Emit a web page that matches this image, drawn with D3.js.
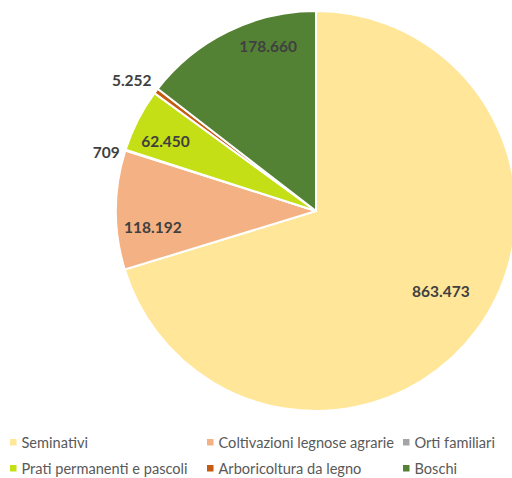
<!DOCTYPE html>
<html>
<head>
<meta charset="utf-8">
<script src="https://cdn.jsdelivr.net/npm/d3@7"></script>
<style>
  html, body { margin: 0; padding: 0; background: #fff; }
  svg { display: block; }
</style>
</head>
<body>
<svg id="chart" width="512" height="478"></svg>
<script>
// Superficie per uso del suolo (ettari)
const categories = [
  "Seminativi",
  "Coltivazioni legnose agrarie",
  "Orti familiari",
  "Prati permanenti e pascoli",
  "Arboricoltura da legno",
  "Boschi"
];
const values = [863473, 118192, 709, 62450, 5252, 178660];
const valueLabels = ["863.473", "118.192", "709", "62.450", "5.252", "178.660"];
const colors = ["#FFE699", "#F4B183", "#A5A5A5", "#C4DF15", "#C55A11", "#548235"];

// label placement: radius as a fraction of the pie radius, plus angle nudge (degrees)
const labelRadius = [0.74, 0.82, 1.09, 0.83, 1.13, 0.86];
const labelAngleShift = [-4, -6, -2, -2, -1.5, 10];

const svg = d3.select("#chart");
const cx = 316, cy = 211, R = 200;

const data = categories.map((c, i) => ({ name: c, value: values[i], label: valueLabels[i], color: colors[i], idx: i }));

const pie = d3.pie().value(d => d.value).sort(null);
const arcs = pie(data);
const arc = d3.arc().innerRadius(0).outerRadius(R);

const g = svg.append("g").attr("transform", `translate(${cx},${cy})`);

g.selectAll("path.slice")
  .data(arcs)
  .join("path")
  .attr("class", "slice")
  .attr("d", arc)
  .attr("fill", d => d.data.color)
  .attr("stroke", "#fff")
  .attr("stroke-width", 2)
  .attr("stroke-linejoin", "round");

g.selectAll("text.val")
  .data(arcs)
  .join("text")
  .attr("class", "val")
  .attr("transform", d => {
    const i = d.data.idx;
    const a = (d.startAngle + d.endAngle) / 2 + labelAngleShift[i] * Math.PI / 180;
    const r = R * labelRadius[i];
    return `translate(${r * Math.sin(a)},${-r * Math.cos(a)})`;
  })
  .attr("text-anchor", "middle")
  .attr("dominant-baseline", "central")
  .attr("font-family", "Lato, 'Open Sans', sans-serif")
  .attr("font-weight", "bold")
  .attr("font-size", 15.5)
  .attr("fill", "#404040")
  .text(d => d.data.label);

// Legend: three columns, two rows
const legendCols = [10, 207, 403];
const legendRows = [442, 468];
const legend = svg.append("g");
const items = legend.selectAll("g.item")
  .data(data)
  .join("g")
  .attr("class", "item")
  .attr("transform", (d, i) => `translate(${legendCols[i % 3]},${legendRows[Math.floor(i / 3)]})`);

items.append("rect")
  .attr("x", 0).attr("y", -3)
  .attr("width", 6.5).attr("height", 6.5)
  .attr("fill", d => d.color);

items.append("text")
  .attr("x", 11.5)
  .attr("y", 0)
  .attr("dominant-baseline", "central")
  .attr("font-family", "Lato, 'Open Sans', sans-serif")
  .attr("font-size", 14.6)
  .attr("fill", "#595959")
  .text(d => d.name);
</script>
</body>
</html>
